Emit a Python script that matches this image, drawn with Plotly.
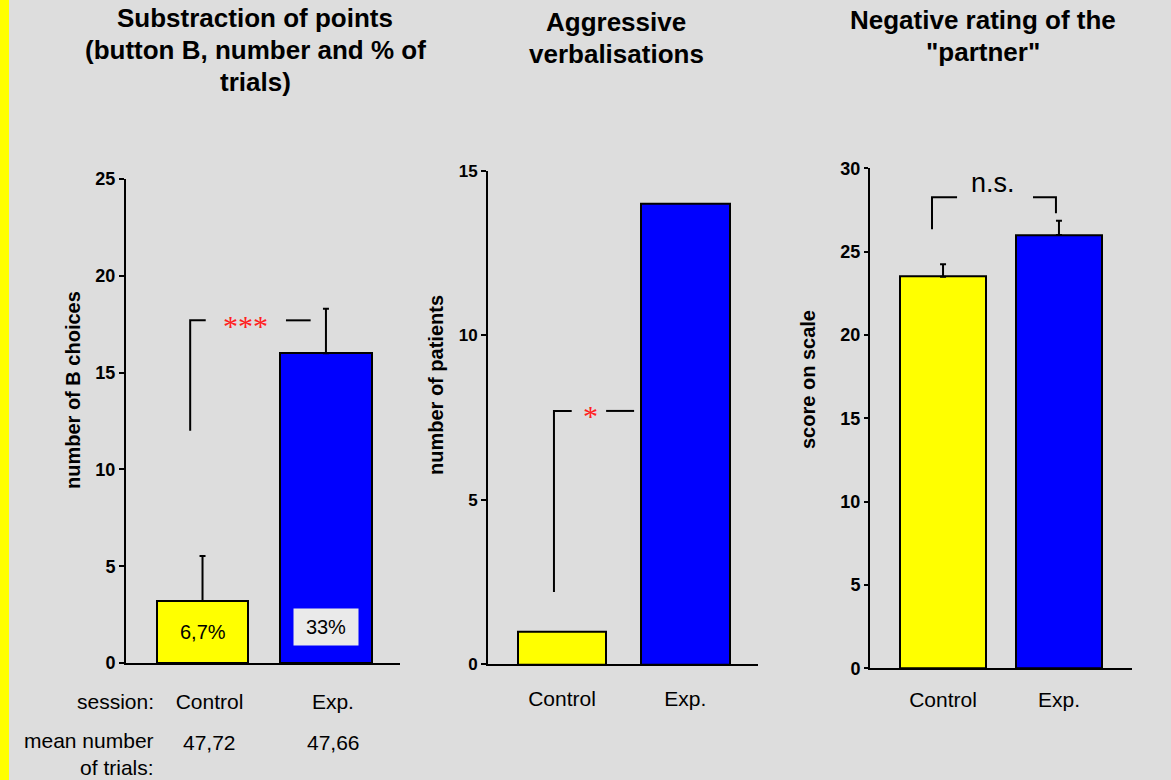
import plotly.graph_objects as go

W, H = 1171, 780
BG = "#DDDDDD"
YEL = "#FFFF00"
BLU = "#0000FF"
FONT = "Arial, Liberation Sans, sans-serif"

# ---- data ----
categories = ["Control", "Exp."]
b_choices = [3.2, 16.0]
b_choices_err = [2.33, 2.3]
patients = [1, 14]
rating = [23.5, 26.0]
rating_err = [0.75, 0.85]
pct_labels = ["6,7%", "33%"]
mean_trials = ["47,72", "47,66"]

title1_lines = ["Substraction of points", "(button B, number and % of", "trials)"]
title2_lines = ["Aggressive", "verbalisations"]
title3_lines = ["Negative rating of the", "\"partner\""]
ytitles = ["number of B choices", "number of patients", "score on scale"]

# significance brackets (data units)
br1_x = [-0.10, -0.10, 0.026]; br1_y = [12.0, 17.7, 17.7]
br1r_x = [0.676, 0.876];       br1r_y = [17.7, 17.7]
br2_x = [-0.065, -0.065, 0.079]; br2_y = [2.2, 7.7, 7.7]
br2r_x = [0.358, 0.585];       br2r_y = [7.7, 7.7]
br3_x = [-0.095, -0.095, 0.121]; br3_y = [26.35, 28.27, 28.27]
br3r_x = [0.776, 0.974, 0.974];  br3r_y = [28.27, 28.27, 27.3]


def px(x):
    return x / W


def py(y):
    return 1 - y / H


fig = go.Figure()
colors = [YEL, BLU]
mk = dict(color=colors, line=dict(color="black", width=2))

fig.add_trace(go.Bar(x=[0, 1], y=b_choices, width=0.74, marker=mk,
                     error_y=dict(type="data", symmetric=False, array=b_choices_err,
                                  arrayminus=[0, 0], color="black", thickness=2, width=3),
                     xaxis="x", yaxis="y"))
fig.add_trace(go.Bar(x=[0, 1], y=patients, width=0.72, marker=mk,
                     xaxis="x2", yaxis="y2"))
fig.add_trace(go.Bar(x=[0, 1], y=rating, width=0.74, marker=mk,
                     error_y=dict(type="data", symmetric=False, array=rating_err,
                                  arrayminus=[0, 0], color="black", thickness=2, width=3),
                     xaxis="x3", yaxis="y3"))

for xs, ys, xa, ya in [(br1_x, br1_y, "x", "y"), (br1r_x, br1r_y, "x", "y"),
                       (br2_x, br2_y, "x2", "y2"), (br2r_x, br2r_y, "x2", "y2"),
                       (br3_x, br3_y, "x3", "y3"), (br3r_x, br3r_y, "x3", "y3")]:
    fig.add_trace(go.Scatter(x=xs, y=ys, mode="lines", line=dict(color="black", width=2),
                             xaxis=xa, yaxis=ya, hoverinfo="skip"))

ax_common = dict(showgrid=False, zeroline=False, showline=True, linecolor="black",
                 linewidth=2)
xcommon = dict(ax_common, tickmode="array", tickvals=[0, 1], ticktext=categories,
               ticks="", tickfont=dict(family=FONT, size=21, color="black"))
ycommon = dict(ax_common, ticks="outside", ticklen=5, tickwidth=1.5, tickcolor="black",
               tickfont=dict(family=FONT, size=18, color="black", weight="bold"))

fig.update_layout(
    width=W, height=H, margin=dict(l=0, r=0, t=0, b=0, autoexpand=False),
    paper_bgcolor=BG, plot_bgcolor=BG, showlegend=False, bargap=0,
    xaxis=dict(xcommon, domain=[px(126), px(400)], range=[-0.62, 1.6], anchor="y",
               ticklabelstandoff=19, ticklabelshift=7),
    yaxis=dict(ycommon, domain=[py(663), py(179)], range=[0, 25], tickvals=[0, 5, 10, 15, 20, 25],
               anchor="x"),
    xaxis2=dict(xcommon, domain=[px(488), px(758)], range=[-0.6, 1.59], anchor="y2",
                ticklabelstandoff=14),
    yaxis2=dict(ycommon, domain=[py(664.3), py(170.7)], range=[0, 15], tickvals=[0, 5, 10, 15],
                anchor="x2", tickfont=dict(family=FONT, size=17, color="black", weight="bold")),
    xaxis3=dict(xcommon, domain=[px(870), px(1132)], range=[-0.63, 1.63], anchor="y3",
                ticklabelstandoff=11),
    yaxis3=dict(ycommon, domain=[py(668.3), py(168.3)], range=[0, 30],
                tickvals=[0, 5, 10, 15, 20, 25, 30], anchor="x3", ticklen=4),
)

# yellow stripe on left
fig.add_shape(type="rect", xref="paper", yref="paper", x0=0, x1=px(9), y0=0, y1=1,
              fillcolor=YEL, line=dict(width=0), layer="below")

ann = []
tf = dict(family=FONT, size=26, color="black", weight="bold")
for lines, xc, ys in [(title1_lines, 255, [18, 50, 82]),
                      (title2_lines, 616, [22, 54]),
                      (title3_lines, 983, [20, 52])]:
    for line, yy in zip(lines, ys):
        ann.append(dict(x=px(xc), y=py(yy), text=line, font=tf, xref="paper", yref="paper",
                        showarrow=False, xanchor="center", yanchor="middle"))

yt_font = dict(family=FONT, size=20, color="black", weight="bold")
for xx, yy, t in [(73, 390, ytitles[0]), (436, 385, ytitles[1]), (808, 380, ytitles[2])]:
    ann.append(dict(x=px(xx), y=py(yy), text=t, textangle=-90, font=yt_font,
                    xref="paper", yref="paper", showarrow=False, yanchor="middle",
                    xanchor="center"))

# percent labels
ann.append(dict(x=0, y=1.6, xref="x", yref="y", text=pct_labels[0], showarrow=False,
                yanchor="middle", font=dict(family=FONT, size=20, color="black")))
ann.append(dict(x=1.0, y=1.86, xref="x", yref="y", text=pct_labels[1], showarrow=False,
                yanchor="middle", font=dict(family=FONT, size=20, color="black"),
                bgcolor="#EAEAEA", width=62, height=34))

# session info
rf = dict(family=FONT, size=21, color="black")
ann.append(dict(x=px(156), y=py(701), text="session:", xanchor="right", yanchor="middle",
                font=rf, xref="paper", yref="paper", showarrow=False))
ann.append(dict(x=px(156), y=py(754), text="mean number<br>of trials:", xanchor="right",
                yanchor="middle", align="right", font=rf, xref="paper", yref="paper",
                showarrow=False))
for i, m in enumerate(mean_trials):
    ann.append(dict(x=i + 0.06, y=py(742), xref="x", yref="paper", text=m, showarrow=False,
                    yanchor="middle", font=rf))

# significance markers
sf = dict(family="Liberation Serif, Times New Roman, serif", size=30, color="#FF2020")
ann.append(dict(x=0.352, y=17.7, xref="x", yref="y", text="***", showarrow=False, font=sf,
                yanchor="middle", yshift=-5))
ann.append(dict(x=0.228, y=7.7, xref="x2", yref="y2", text="*", showarrow=False, font=sf,
                yanchor="middle", yshift=-5))
ann.append(dict(x=0.431, y=29.1, xref="x3", yref="y3", text="n.s.", showarrow=False,
                yanchor="middle", font=dict(family=FONT, size=27, color="black")))

fig.update_layout(annotations=ann)
fig.write_html("out.html", config={"displayModeBar": False},
               post_script="document.body.style.margin='0';"
                           "document.body.style.overflow='hidden';")
